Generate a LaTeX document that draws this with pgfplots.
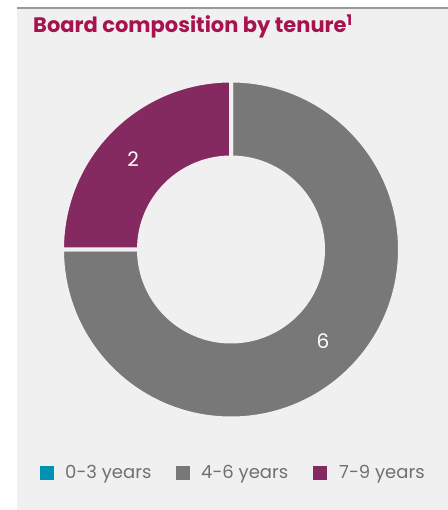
\documentclass[border=0pt]{standalone}
\usepackage{pgfplots}
\pgfplotsset{compat=1.18}
\usepackage{pgfplotstable}
\usepackage{fontspec}
\setmainfont{Poppins}
\definecolor{bg}{HTML}{F0F0F0}
\definecolor{tealc}{HTML}{0092B5}
\definecolor{grayc}{HTML}{787878}
\definecolor{purp}{HTML}{852A60}
\definecolor{titlec}{HTML}{A8124F}
\definecolor{legtext}{HTML}{707070}
\pgfplotstableread{
label value
0-3 0
4-6 6
7-9 2
}\datatable
\begin{document}
\begin{tikzpicture}
\pgfplotstablegetelem{0}{value}\of\datatable \let\vA\pgfplotsretval
\pgfplotstablegetelem{1}{value}\of\datatable \let\vB\pgfplotsretval
\pgfplotstablegetelem{2}{value}\of\datatable \let\vC\pgfplotsretval
\pgfmathsetmacro\tot{\vA+\vB+\vC}
\pgfmathsetmacro\aA{90}
\pgfmathsetmacro\aB{90-360*\vA/\tot}
\pgfmathsetmacro\aC{\aB-360*\vB/\tot}
\pgfmathsetmacro\aD{\aC-360*\vC/\tot}
\begin{axis}[x=1bp,y=1bp,xmin=0,xmax=448,ymin=0,ymax=510,hide axis,
  scale only axis, clip=false, at={(0,0)}, anchor=south west]
\coordinate (ll) at (axis cs:0,0);
\coordinate (ur) at (axis cs:448,510);
\fill[bg] (axis cs:17,0) rectangle (axis cs:448,502);
\draw[color=black!40, line width=1.3bp] (axis cs:17,502) -- (axis cs:448,502);
\node[anchor=base west, font=\fontsize{21bp}{24bp}\selectfont\bfseries, text=titlec, inner sep=0pt]
  at (axis cs:33,477) {Board composition by tenure\textsuperscript{1}};
% donut
\fill[grayc, draw=bg, line width=4bp] (axis cs:231,260.5) -- ++(\aB:169bp) arc[start angle=\aB, end angle=\aC, radius=169bp] -- cycle;
\fill[purp, draw=bg, line width=4bp] (axis cs:231,260.5) -- ++(\aC:169bp) arc[start angle=\aC, end angle=\aD, radius=169bp] -- cycle;
\fill[bg] (axis cs:231,260.5) circle[radius=94bp];
\node[text=white, font=\fontsize{20bp}{22bp}\selectfont, anchor=base] at (axis cs:133,343) {\vC};
\node[text=white, font=\fontsize{20bp}{22bp}\selectfont, anchor=base] at (axis cs:323,161) {\vB};
% legend
\fill[tealc] (axis cs:40,30) rectangle (axis cs:53.5,43.5);
\fill[grayc] (axis cs:176,30) rectangle (axis cs:189.5,43.5);
\fill[purp] (axis cs:313,30) rectangle (axis cs:326.5,43.5);
\node[anchor=base west, inner sep=0pt, text=legtext, font=\fontsize{18bp}{20bp}\selectfont] at (axis cs:65,31) {0-3 years};
\node[anchor=base west, inner sep=0pt, text=legtext, font=\fontsize{18bp}{20bp}\selectfont] at (axis cs:201,31) {4-6 years};
\node[anchor=base west, inner sep=0pt, text=legtext, font=\fontsize{18bp}{20bp}\selectfont] at (axis cs:339,31) {7-9 years};
\end{axis}
\pgfresetboundingbox
\path (ll) rectangle (ur);
\end{tikzpicture}
\end{document}
